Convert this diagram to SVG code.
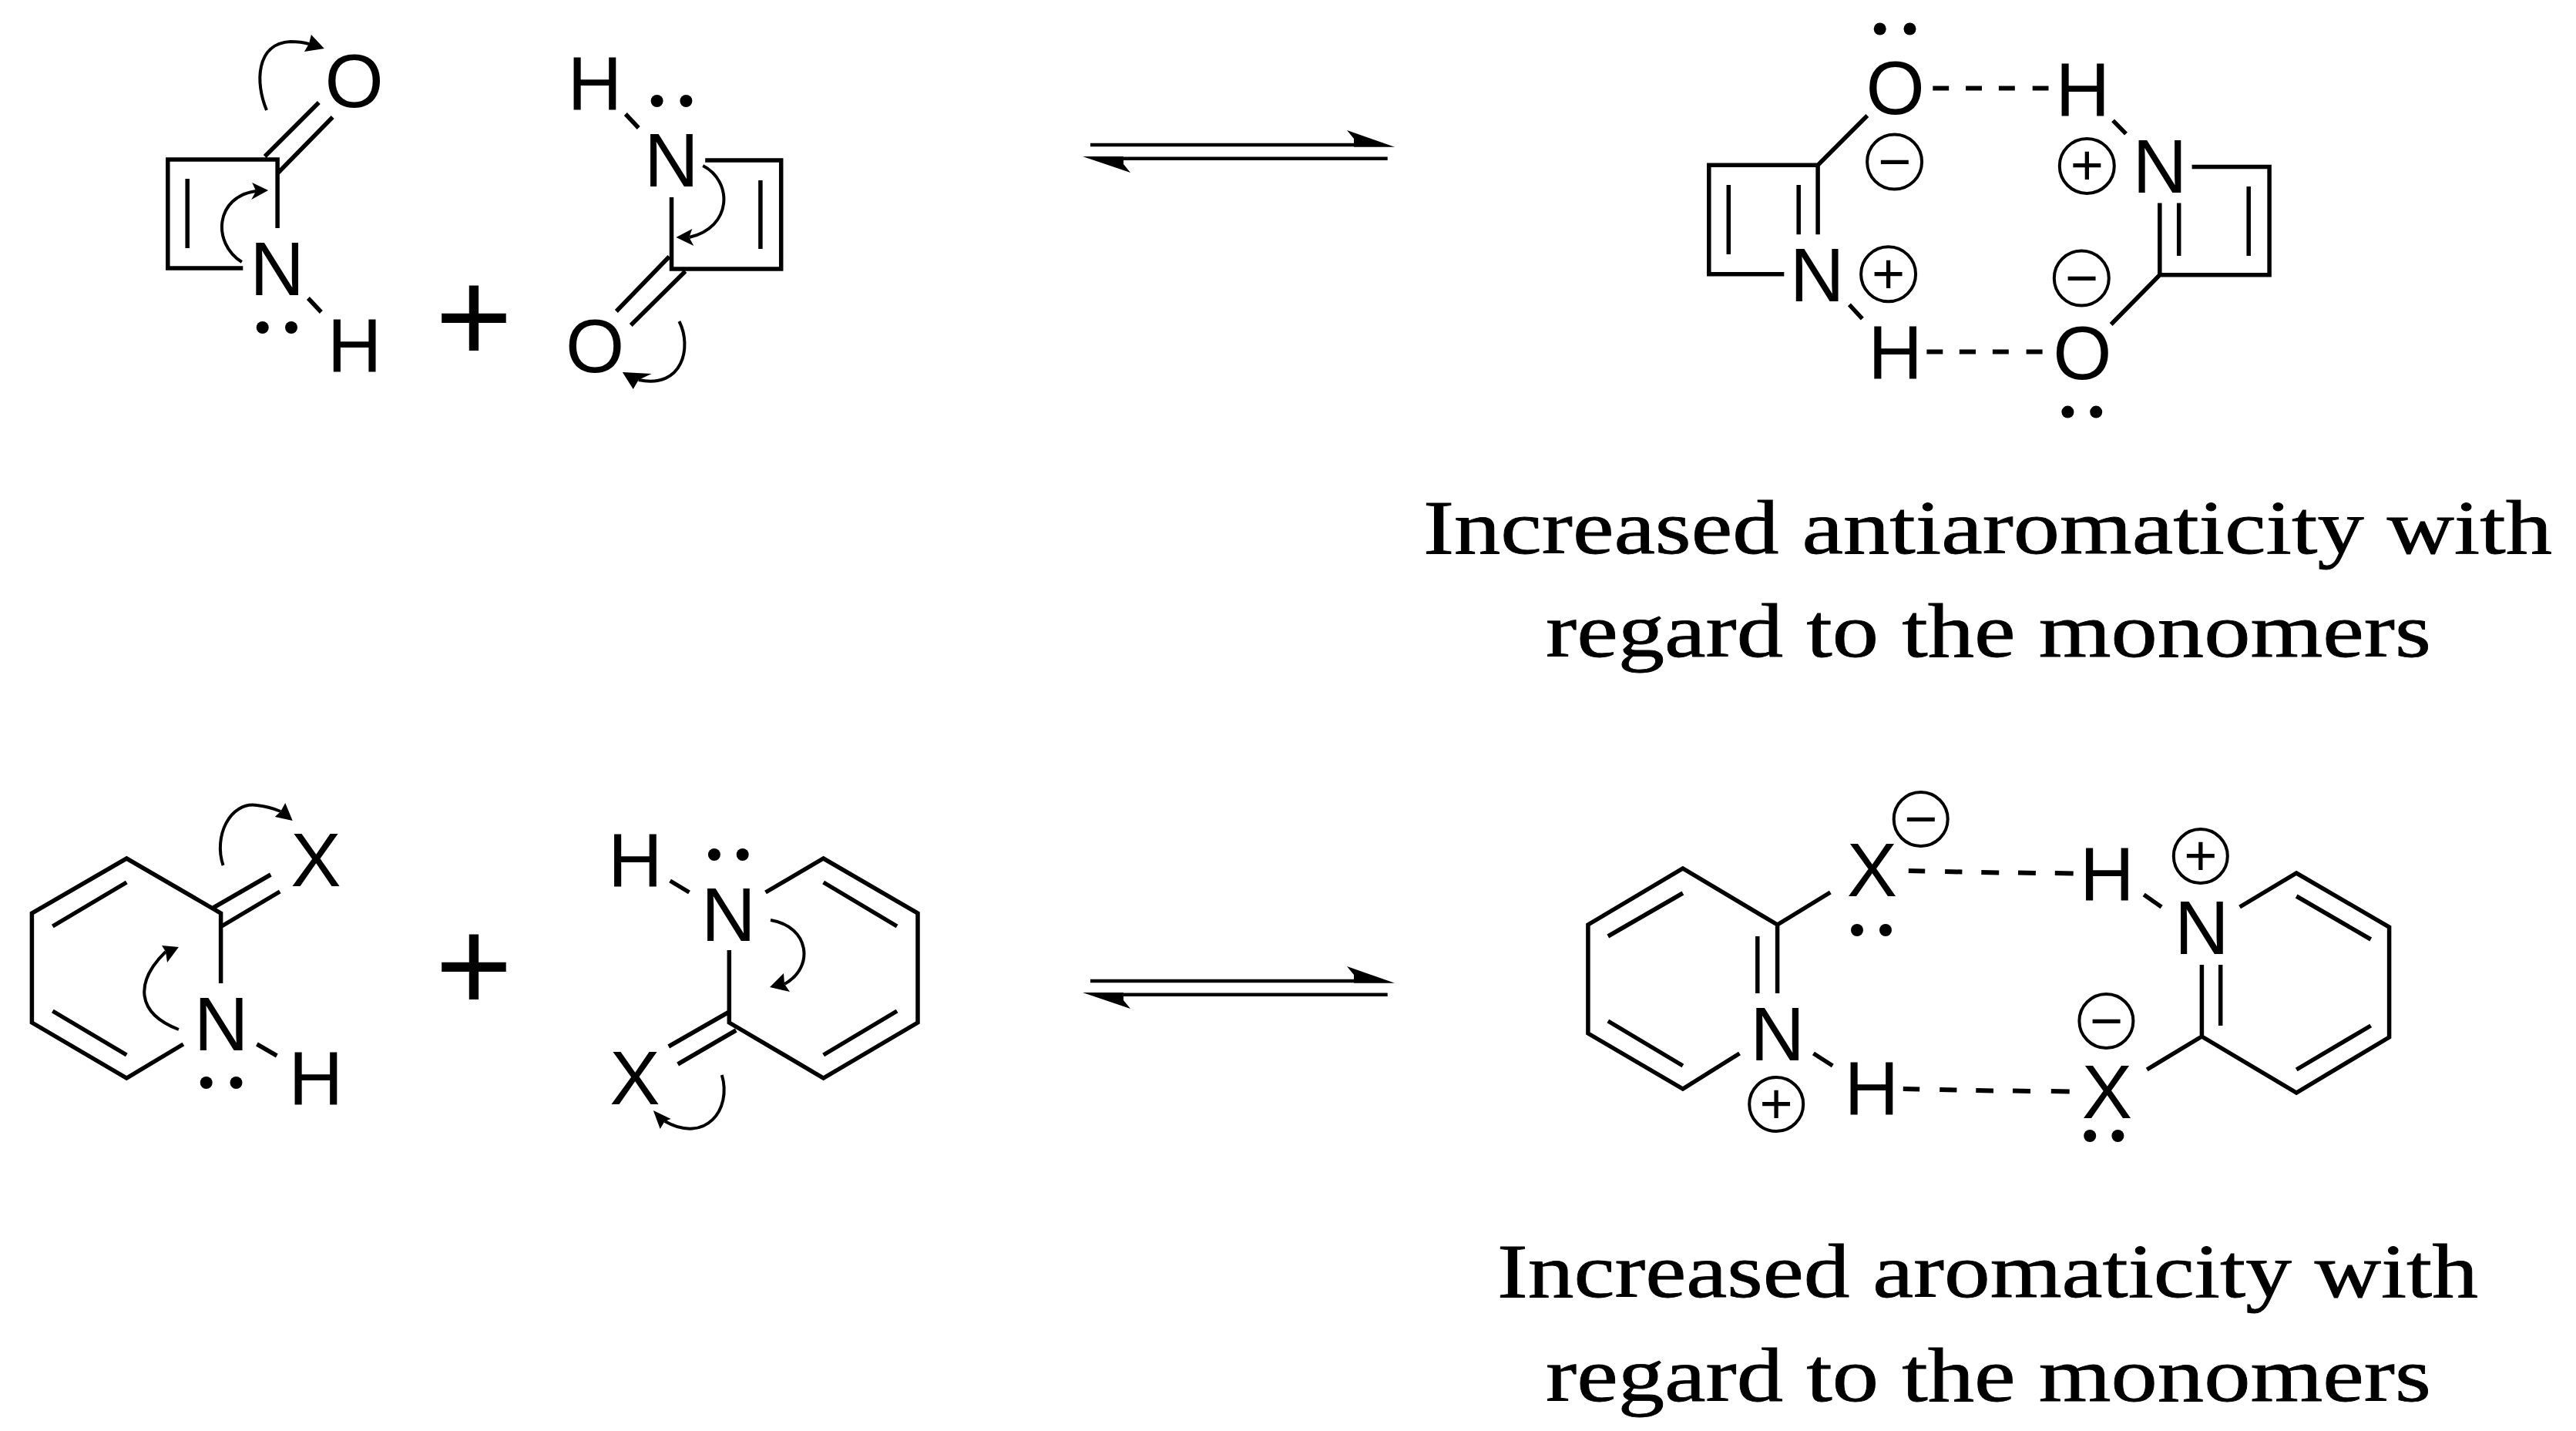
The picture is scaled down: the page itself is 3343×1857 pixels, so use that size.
<svg xmlns="http://www.w3.org/2000/svg" width="3343" height="1857" viewBox="0 0 3343 1857">
<style>
text{fill:#000;font-family:"Liberation Sans",Arial,sans-serif}
.a{font-size:98px;text-anchor:middle}
.plus{font-size:172px;text-anchor:middle}
.c{font-size:74px;text-anchor:middle}
.cap{font-family:"Liberation Serif","Times New Roman",serif;font-size:100px;stroke:#000;stroke-width:.8}
.l{fill:none;stroke:#000;stroke-width:5.500;stroke-linecap:butt;stroke-linejoin:miter}
.ch{fill:none;stroke:#000;stroke-width:4}
.dh{fill:none;stroke:#000;stroke-width:6}
.cv{fill:none;stroke:#000;stroke-width:4}
.eq{fill:none;stroke:#000;stroke-width:4.500}
.hd{fill:#000}
</style>
<rect width="3343" height="1857" fill="#fff"/>

<g id="mol-azete-1">
<path class="l" d="M315.300 348H217.800V207H360.100V296M243.200 232V322M343.700 203L413.800 133M361.100 224L431.700 152M399.900 387L416.800 405"/>
<text class="a" x="459.600" y="139">O</text>
<text class="a" x="359.600" y="383">N</text>
<text class="a" x="460.100" y="482">H</text>
<circle class="hd" cx="340.700" cy="425" r="8"/><circle class="hd" cx="378" cy="425" r="8"/>
</g>

<g id="plus-1"><text class="plus" x="615" y="470">+</text></g>

<g id="mol-azete-2">
<path class="l" d="M915.200 208H1013.700V349H871.500V256M986.900 234V323M868.500 333L799.800 404M889.400 352L818.700 422M811.800 148L828.700 166"/>
<text class="a" x="772" y="142">H</text>
<text class="a" x="871.500" y="242">N</text>
<text class="a" x="772" y="483">O</text>
<circle class="hd" cx="852.600" cy="131" r="8"/><circle class="hd" cx="890.400" cy="131" r="8"/>
</g>

<g id="dimer-azete">
<path class="l" d="M2315.300 355.700H2217.800V214.300H2359.100V304.300M2243.300 240V330M2334.200 240V304.300M2359.100 214.300L2423.300 150M2399.900 395.400L2416.800 413.600"/>
<path class="l" d="M2844.600 216.400H2945.100V356.800H2802.800V263.600M2827.700 263.600V332.100M2918.200 242.100V332.100M2802.800 356.800L2739.600 421M2742.100 156.400L2759 173.600"/>
<path class="dh" d="M2508.300 114.600H2529.200M2551.100 114.600H2572M2593.900 114.600H2614.800M2637.700 114.600H2658.500M2500.400 456.400H2521.300M2542.800 456.400H2564M2585.900 456.400H2606.800M2629.600 456.400H2650.600"/>
<text class="a" x="2459.600" y="148">O</text>
<text class="a" x="2702.800" y="150">H</text>
<text class="a" x="2802.800" y="249.600">N</text>
<text class="a" x="2358.100" y="391">N</text>
<text class="a" x="2459.600" y="490.700">H</text>
<text class="a" x="2702.300" y="491.800">O</text>
<circle class="hd" cx="2439.700" cy="37.500" r="8"/><circle class="hd" cx="2478.500" cy="37.500" r="8"/>
<circle class="hd" cx="2683.400" cy="534.600" r="8"/><circle class="hd" cx="2720.200" cy="534.600" r="8"/>
<circle class="ch" cx="2458.600" cy="210" r="35.500"/><text class="c" x="2458.600" y="235">−</text>
<circle class="ch" cx="2708.300" cy="215.400" r="35.500"/><text class="c" x="2708.300" y="240.400">+</text>
<circle class="ch" cx="2450.600" cy="355.700" r="35.500"/><text class="c" x="2450.600" y="380.700">+</text>
<circle class="ch" cx="2701.300" cy="361" r="35.500"/><text class="c" x="2701.300" y="386">−</text>
</g>

<g id="caption-1">
<text class="cap" x="1847" y="718" textLength="1465" lengthAdjust="spacingAndGlyphs">Increased antiaromaticity with</text>
<text class="cap" x="2006" y="852" textLength="1149" lengthAdjust="spacingAndGlyphs">regard to the monomers</text>
</g>

<g id="mol-pyridone-1">
<path class="l" d="M237.900 1355L164.300 1399L41.400 1327V1185L164.300 1114L286.600 1185V1276M68.300 1202L164.300 1145M68.300 1312L164.300 1369M276.700 1178L351.300 1135M287.600 1202L363.200 1157M333.400 1355L359.300 1370"/>
<text class="a" x="410" y="1150">X</text>
<text class="a" x="287.100" y="1363">N</text>
<text class="a" x="410" y="1433">H</text>
<circle class="hd" cx="267.700" cy="1405" r="8"/><circle class="hd" cx="306.500" cy="1405" r="8"/>
</g>

<g id="plus-2"><text class="plus" x="615" y="1312">+</text></g>

<g id="mol-pyridone-2">
<path class="l" d="M993.500 1158L1068.600 1114L1191 1185V1327L1068.600 1399L946.300 1327V1233M1068.600 1145L1164.100 1202M1164.100 1312L1068.600 1369M946.300 1313L867.700 1358M955.200 1337L879.600 1381M869.600 1143L894.500 1158"/>
<text class="a" x="824.400" y="1150">H</text>
<text class="a" x="945.300" y="1221">N</text>
<text class="a" x="823.900" y="1433">X</text>
<circle class="hd" cx="926.900" cy="1109" r="8"/><circle class="hd" cx="963.700" cy="1109" r="8"/>
</g>

<g id="dimer-pyridone">
<path class="l" d="M2257.500 1367L2183.900 1413L2060.900 1341V1200L2183.900 1127L2306.600 1200V1289M2086.800 1215L2183.900 1159M2086.800 1325L2183.900 1383M2280.800 1215V1289M2306.600 1200L2375.300 1158M2353.400 1367L2378.300 1383"/>
<path class="l" d="M2906.600 1177L2980.200 1133L3100.600 1203V1346L2980.200 1418L2857.400 1345V1252M2980.200 1163L3076.700 1219M3076.700 1331L2980.200 1388M2881.700 1252V1331M2786.200 1388L2857.400 1345M2782.200 1161L2805.100 1177"/>
<path class="dh" d="M2476.800 1130L2498.200 1130.500M2524.100 1131L2546.400 1131.500M2571.300 1132L2594.200 1132.500M2619 1132.500L2641.900 1133M2666.800 1133L2690.700 1133.500M2469.800 1413L2491.200 1413.500M2517.200 1414L2539.400 1414.500M2564.300 1415L2587 1415.500M2612 1415.500L2635 1416M2661.800 1416L2685.700 1416.500"/>
<text class="a" x="2429.500" y="1163">X</text>
<text class="a" x="2734.400" y="1168">H</text>
<text class="a" x="2857.300" y="1238">N</text>
<text class="a" x="2306.600" y="1376">N</text>
<text class="a" x="2429" y="1446">H</text>
<text class="a" x="2734.400" y="1451">X</text>
<circle class="hd" cx="2410" cy="1207" r="8"/><circle class="hd" cx="2447" cy="1207" r="8"/>
<circle class="hd" cx="2712.200" cy="1474" r="8"/><circle class="hd" cx="2748.400" cy="1474" r="8"/>
<circle class="ch" cx="2492.700" cy="1063" r="35"/><text class="c" x="2492.700" y="1088">−</text>
<circle class="ch" cx="2855.800" cy="1111" r="35"/><text class="c" x="2855.800" y="1136">+</text>
<circle class="ch" cx="2305.200" cy="1433" r="35"/><text class="c" x="2305.200" y="1458">+</text>
<circle class="ch" cx="2733.400" cy="1325" r="35"/><text class="c" x="2733.400" y="1350">−</text>
</g>

<g id="caption-2">
<text class="cap" x="1943" y="1683" textLength="1273" lengthAdjust="spacingAndGlyphs">Increased aromaticity with</text>
<text class="cap" x="2006" y="1818" textLength="1149" lengthAdjust="spacingAndGlyphs">regard to the monomers</text>
</g>

<g id="connectors">
<path class="cv" d="M346 143C331 108 332 56 377 54Q391 54 401 57"/><polygon class="hd" points="420.800,63 403.900,45 400.900,57 394.900,67"/>
<path class="cv" d="M313.800 340C274.500 315 279.500 255 332.100 248"/><polygon class="hd" points="348.100,247 327.200,237 332.200,248 326.200,259"/>
<path class="cv" d="M912.200 215C951 235 951 295 894.300 308"/><polygon class="hd" points="877.400,308 898.300,297 894.300,308 900.300,319"/>
<path class="cv" d="M881.400 417C898.300 450 886.400 505 828.700 493"/><polygon class="hd" points="807.800,483 845.600,485 828.700,493 821.700,505"/>
<path class="cv" d="M289.600 1123C276.700 1085 298.600 1040 333.400 1045Q350.300 1047 364.200 1053"/><polygon class="hd" points="379.700,1065 370.200,1042 364.200,1053 356.800,1060"/>
<path class="cv" d="M231.900 1336C177.200 1315 174.200 1275 215 1235"/><polygon class="hd" points="231.900,1229 210,1227 215,1235 217,1249"/>
<path class="cv" d="M1000 1194C1050 1202 1058 1255 1018 1277"/><polygon class="hd" points="999,1281 1017,1263 1018,1277 1025,1287"/>
<path class="cv" d="M936.800 1395C950.200 1440 915.400 1485 862.700 1455"/><polygon class="hd" points="847.800,1441 870.600,1452 862.700,1455 856.700,1465"/>
<path class="eq" d="M1415 188H1757M1800.700 205.700H1458"/>
<polygon class="hd" points="1810,190.700 1748,169 1757,180 1757,190.700"/>
<polygon class="hd" points="1405,203 1467,224 1458,213 1458,203"/>
<path class="eq" d="M1415 1273H1757M1800.700 1290.700H1458"/>
<polygon class="hd" points="1810,1275.700 1748,1254 1757,1265 1757,1275.700"/>
<polygon class="hd" points="1405,1288 1467,1309 1458,1298 1458,1288"/>
</g>
</svg>
